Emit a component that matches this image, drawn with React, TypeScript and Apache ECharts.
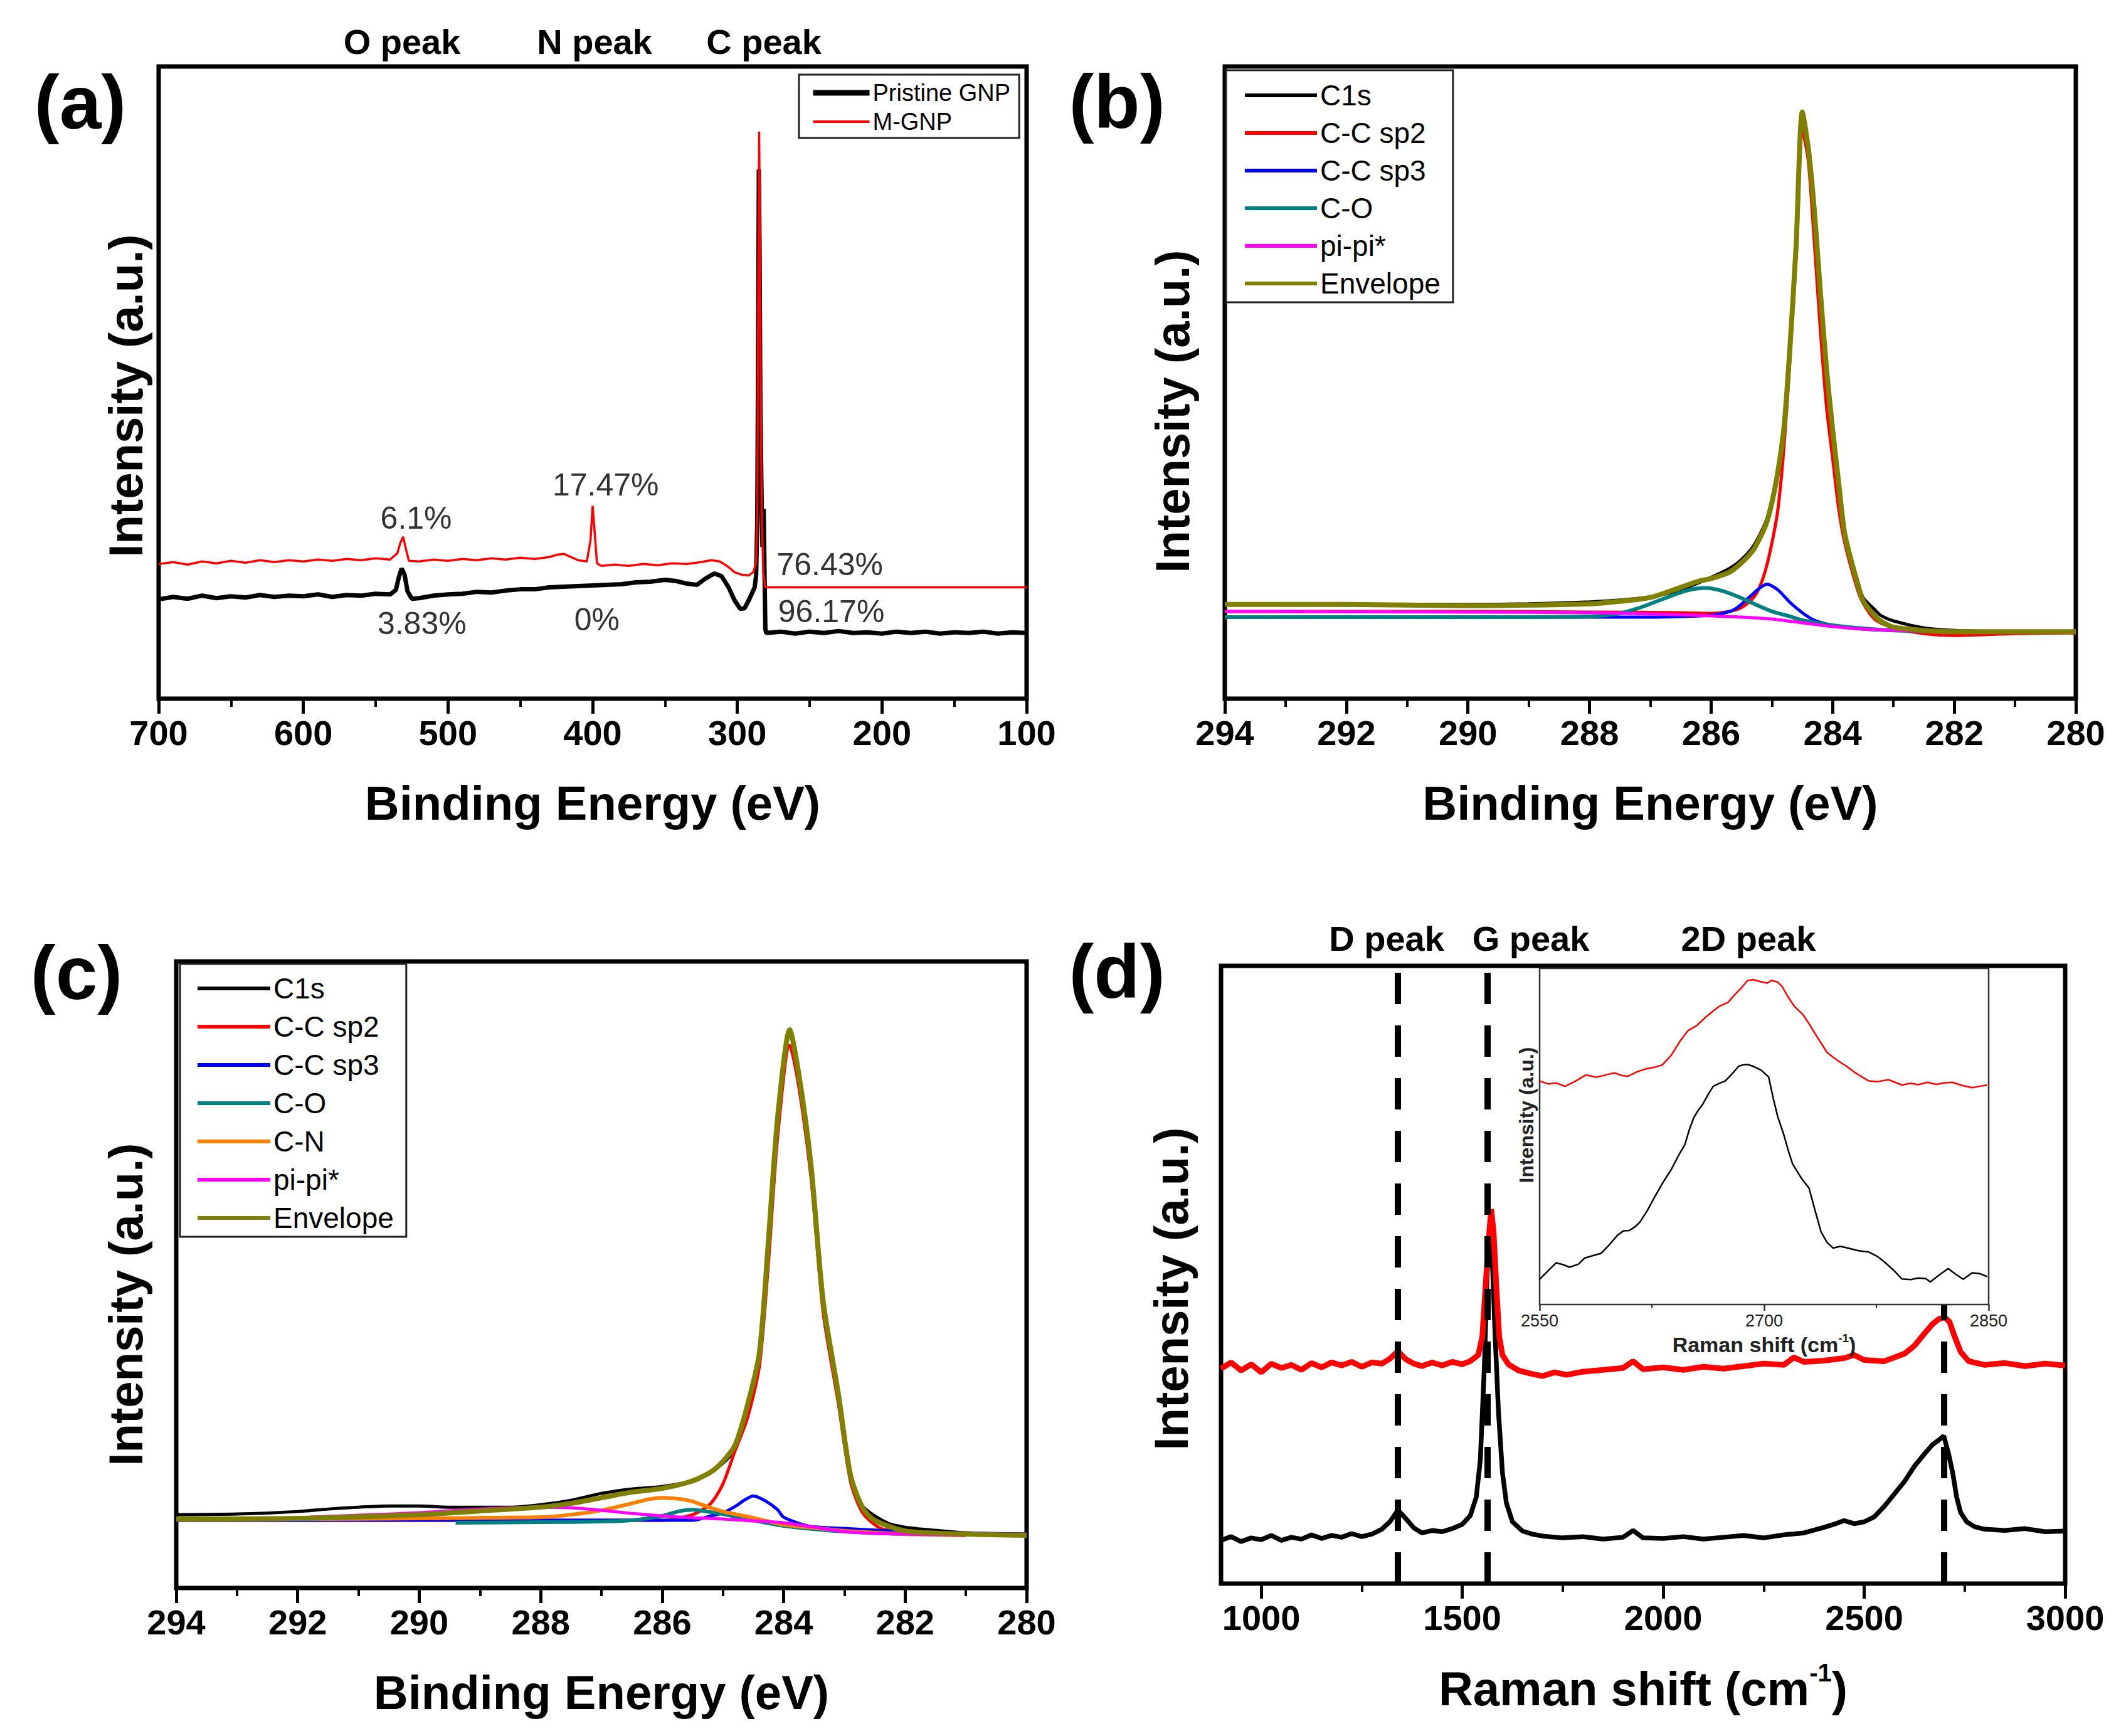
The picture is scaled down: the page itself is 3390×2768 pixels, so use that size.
import React, { useEffect, useRef } from "react";
import * as echarts from "echarts";

type P = [number, number];

const FONT = "'Liberation Sans', Arial, Helvetica, sans-serif";

// ---------------- (a) XPS survey ----------------
const pristineGNP: P[] = [
  [700, 15.7], [690, 16.1], [680, 15.8], [670, 16.3], [660, 15.9], [650, 16.2], [640, 16.0], [630, 16.4],
  [620, 16.1], [610, 16.3], [600, 16.2], [590, 16.5], [580, 16.1], [570, 16.4], [560, 16.3], [550, 16.6],
  [540, 16.5], [536, 17.2], [534, 19.2], [532, 20.6], [530, 19.6], [528, 17.0], [525, 15.8], [520, 15.9],
  [510, 16.3], [500, 16.5], [490, 16.6], [480, 16.9], [470, 16.8], [460, 17.1], [450, 17.3], [440, 17.3],
  [430, 17.6], [420, 17.7], [410, 17.8], [400, 17.9], [390, 18.0], [380, 18.1], [370, 18.4], [360, 18.5],
  [350, 18.8], [342, 18.6], [335, 18.2], [328, 18.0], [322, 19.0], [316, 19.8], [311, 19.4], [306, 17.6],
  [302, 15.6], [298, 14.2], [295, 14.3], [292, 15.6], [290, 16.6], [288, 17.6], [287, 19.5], [286.2, 28],
  [285.6, 55], [285.1, 83.7], [284.6, 70], [284.1, 48], [283.6, 38], [283.1, 30], [282.6, 24], [281.8, 30],
  [281.2, 20], [280.6, 11], [280, 10.4], [270, 10.6], [260, 10.3], [250, 10.6], [240, 10.4], [230, 10.7],
  [220, 10.4], [210, 10.5], [200, 10.3], [190, 10.6], [180, 10.4], [170, 10.6], [160, 10.3], [150, 10.5],
  [140, 10.4], [130, 10.6], [120, 10.3], [110, 10.5], [100, 10.4],
];
const mGNP: P[] = [
  [700, 21.3], [690, 21.6], [680, 21.2], [670, 21.7], [660, 21.4], [650, 21.8], [640, 21.5], [630, 21.9],
  [620, 21.6], [610, 21.9], [600, 21.7], [590, 22.0], [580, 21.8], [570, 22.1], [560, 21.9], [550, 22.2],
  [540, 22.0], [535, 23.0], [533, 24.6], [531, 25.6], [529, 23.6], [527, 21.8], [520, 21.7], [510, 22.0],
  [500, 21.8], [490, 22.1], [480, 21.9], [470, 22.2], [460, 22.0], [450, 22.3], [440, 22.1], [430, 22.4],
  [424, 22.8], [420, 22.9], [416, 22.5], [410, 21.9], [404, 21.7], [401.5, 25], [400, 30.5], [398.5, 26],
  [397, 21.4], [394, 21.0], [385, 21.2], [375, 21.0], [365, 21.3], [355, 21.1], [345, 21.4], [335, 21.3],
  [325, 21.6], [318, 21.9], [312, 21.7], [306, 20.8], [302, 20.0], [297, 19.6], [292, 19.5], [289, 20.0],
  [287, 21.5], [286.2, 30], [285.6, 60], [284.9, 89.7], [284.3, 72], [283.7, 45], [283, 28], [282, 20],
  [281, 18], [280.5, 17.6], [280, 17.6], [100, 17.6],
];
const surveyNotes = [
  { text: "6.1%", x: 522, y: 28.6 },
  { text: "17.47%", x: 391, y: 33.8 },
  { text: "76.43%", x: 236, y: 21.2 },
  { text: "3.83%", x: 518, y: 11.9 },
  { text: "0%", x: 397, y: 12.5 },
  { text: "96.17%", x: 235, y: 13.8 },
];
const surveyLegend = ["Pristine GNP", "M-GNP"];

// ---------------- (b) C1s Pristine ----------------
const bC1s: P[] = [
  [294, 14.9], [293, 14.9], [292, 14.8], [291, 14.9], [290, 14.9], [289, 15.0], [288, 15.3], [287.5, 15.6],
  [287, 16.1], [286.5, 17.2], [286, 19.2], [285.7, 20.6], [285.5, 22.0], [285.3, 24.2], [285.1, 28], [285.0, 31.5],
  [284.9, 36], [284.8, 42], [284.7, 55], [284.6, 70], [284.5, 92.2], [284.4, 86], [284.3, 76], [284.2, 63],
  [284.1, 51], [284.0, 41.8], [283.9, 33], [283.8, 25.5], [283.6, 19], [283.5, 16], [283.3, 14], [283.2, 13.1],
  [283, 12.3], [282.5, 11.2], [282, 10.8], [281, 10.6], [280, 10.6],
];
const bSp2: P[] = [
  [294, 13.8], [290, 13.8], [288, 13.7], [286.5, 13.6], [286, 13.5], [285.7, 13.8], [285.5, 14.4], [285.3, 16],
  [285.2, 17.7], [285.1, 20.5], [285.0, 24.6], [284.9, 30], [284.8, 40], [284.7, 54], [284.6, 72], [284.5, 90],
  [284.4, 85], [284.3, 72], [284.2, 58], [284.1, 46], [284.0, 38], [283.9, 30], [283.8, 24.6], [283.6, 17.5],
  [283.5, 15.1], [283.3, 12.5], [283, 11.2], [282.5, 10.3], [282, 10.0], [281, 10.3], [280, 10.4],
];
const bSp3: P[] = [
  [294, 12.9], [290, 12.9], [287, 12.9], [286.5, 13.0], [286, 13.2], [285.8, 13.5], [285.6, 14.2], [285.4, 15.8],
  [285.2, 17.5], [285.08, 18.1], [284.9, 17.2], [284.7, 15.2], [284.5, 13.6], [284.3, 12.4], [284, 11.6],
  [283.5, 11.0], [283, 10.8], [282, 10.7], [280, 10.6],
];
const bCO: P[] = [
  [294, 12.9], [290, 12.9], [288, 13.0], [287.5, 13.5], [287.2, 14.3], [287, 15.0], [286.7, 16.1], [286.4, 17.1],
  [286.1, 17.5], [285.8, 17.0], [285.5, 15.9], [285.2, 14.6], [285, 13.8], [284.7, 13.0], [284.5, 12.4],
  [284, 11.6], [283.5, 11.1], [283, 10.8], [282, 10.6], [280, 10.6],
];
const bPi: P[] = [
  [294, 13.8], [290, 13.7], [288, 13.6], [287, 13.4], [286, 13.1], [285.5, 12.9], [285, 12.6], [284.5, 12.0],
  [284, 11.4], [283.5, 11.0], [283, 10.8], [282.5, 10.7], [282, 10.6], [281, 10.6], [280, 10.6],
];
const bEnvelope: P[] = [
  [294, 14.9], [292, 14.9], [290, 14.7], [289, 14.8], [288, 15.0], [287.5, 15.4], [287, 16.0], [286.5, 17.6],
  [286.2, 18.6], [286, 19.0], [285.7, 20.0], [285.5, 21.5], [285.3, 23.6], [285.1, 27.5], [285.0, 31], [284.9, 36],
  [284.8, 43], [284.7, 56], [284.6, 72], [284.5, 92.8], [284.4, 87], [284.3, 77], [284.2, 64], [284.1, 52],
  [284.0, 42.5], [283.9, 34], [283.8, 26], [283.6, 18.5], [283.5, 15.5], [283.3, 13], [283.2, 12.2], [283, 11.3],
  [282.5, 10.8], [282, 10.6], [280, 10.6],
];
const bLegend = ["C1s", "C-C sp2", "C-C sp3", "C-O", "pi-pi*", "Envelope"];

// ---------------- (c) C1s M-GNP ----------------
const cC1s: P[] = [
  [294, 11.7], [293, 11.8], [292, 12.2], [291.5, 12.6], [291, 12.9], [290.5, 13.1], [290, 13.1], [289.5, 12.9],
  [289, 12.9], [288.5, 12.9], [288, 13.3], [287.5, 14.0], [287, 15.1], [286.5, 15.8], [286, 16.2], [285.5, 17.1],
  [285.2, 18.5], [285, 19.9], [284.8, 22.1], [284.6, 28.3], [284.4, 36.6], [284.25, 54.9], [284.1, 74.5],
  [283.9, 88.9], [283.75, 81.7], [283.55, 67.3], [283.35, 45.6], [283.1, 31.2], [282.9, 18.5], [282.7, 13.1],
  [282.3, 10.4], [282, 9.7], [281.5, 9.2], [281, 8.8], [280, 8.4],
];
const cSp2: P[] = [
  [294, 10.8], [290, 10.8], [288, 10.8], [286, 10.8], [285.5, 11.7], [285.2, 13.5], [285.0, 16.6], [284.8, 21.9],
  [284.6, 27], [284.4, 35.4], [284.25, 52], [284.1, 72], [283.9, 86.6], [283.75, 80], [283.55, 65.5],
  [283.35, 44], [283.1, 29.5], [282.9, 17], [282.7, 12], [282.4, 9.5], [282, 9.0], [281, 8.6], [280, 8.6],
];
const cSp3: P[] = [
  [294, 10.8], [286, 10.8], [285.5, 10.8], [285.2, 11.5], [285, 12.0], [284.8, 13.0], [284.65, 14.0],
  [284.5, 14.7], [284.3, 13.9], [284.1, 12.5], [284, 11.3], [283.6, 9.9], [283, 9.5], [282, 9.0], [280, 8.6],
];
const cCO: P[] = [
  [289.4, 10.4], [288, 10.5], [287, 10.6], [286.5, 10.8], [286, 11.5], [285.7, 12.3], [285.5, 12.5],
  [285.2, 12.1], [285, 11.8], [284.5, 10.8], [284, 9.9], [283, 9.0], [282, 8.6],
];
const cCN: P[] = [
  [294, 11.0], [292, 11.0], [290, 11.1], [289, 11.2], [288, 11.3], [287.5, 11.7], [287, 12.4], [286.5, 13.5],
  [286.2, 14.2], [286, 14.4], [285.7, 14.2], [285.5, 13.8], [285.2, 12.8], [285, 12.2], [284.5, 11.2],
  [284, 10.1], [283.5, 9.6], [283, 9.1], [282, 8.6], [281, 8.4],
];
const cPi: P[] = [
  [291.8, 11.3], [291, 11.6], [290, 12.0], [289, 12.6], [288, 12.9], [287.5, 12.8], [287, 12.4], [286.5, 11.9],
  [286, 11.5], [285.5, 11.2], [285, 11.0], [284.5, 10.7], [284, 10.4], [283.5, 9.7], [283, 9.0], [282.5, 8.7],
  [282, 8.6], [281, 8.4],
];
const cEnvelope: P[] = [
  [294, 11.0], [292, 11.1], [290, 11.7], [289, 12.3], [288, 12.9], [287.5, 13.5], [287, 14.4], [286.5, 15.3],
  [286, 15.9], [285.5, 17.1], [285.2, 18.5], [285, 20.2], [284.8, 22.8], [284.6, 29], [284.4, 37.5],
  [284.25, 55.5], [284.1, 75], [283.9, 89.1], [283.75, 82], [283.55, 67.5], [283.35, 45.8], [283.1, 31],
  [282.9, 18], [282.7, 12.8], [282.5, 10.8], [282, 9.1], [281, 8.6], [280, 8.4],
];
const cLegend = ["C1s", "C-C sp2", "C-C sp3", "C-O", "C-N", "pi-pi*", "Envelope"];

// ---------------- (d) Raman ----------------
const ramanPristine: P[] = [
  [900, 7.0], [925, 7.6], [950, 6.8], [975, 7.4], [1000, 7.1], [1025, 7.8], [1050, 7.0], [1075, 7.5],
  [1100, 7.2], [1125, 7.9], [1150, 7.3], [1175, 7.8], [1200, 7.5], [1225, 8.1], [1250, 7.6], [1275, 8.0],
  [1300, 8.8], [1320, 10.0], [1340, 11.9], [1360, 10.5], [1380, 9.0], [1400, 8.2], [1425, 8.6], [1450, 8.4],
  [1475, 8.9], [1500, 9.6], [1520, 11], [1535, 14], [1545, 20], [1555, 35], [1562, 50], [1568, 57.8],
  [1575, 52], [1582, 40], [1590, 28], [1600, 18], [1610, 13], [1625, 10], [1650, 8.5], [1675, 8.0],
  [1700, 7.7], [1750, 7.4], [1800, 7.6], [1850, 7.2], [1900, 7.5], [1925, 8.6], [1950, 7.4], [2000, 7.3],
  [2050, 7.6], [2100, 7.2], [2150, 7.5], [2200, 7.8], [2250, 7.4], [2300, 7.9], [2350, 8.2], [2400, 9.1],
  [2425, 9.6], [2450, 10.2], [2475, 9.7], [2500, 10.0], [2525, 10.8], [2550, 12.5], [2575, 14.5], [2600, 16.5],
  [2625, 19], [2650, 21], [2670, 22.5], [2685, 23.2], [2698, 23.9], [2710, 21], [2720, 18], [2730, 14],
  [2740, 11.5], [2755, 10], [2775, 9.2], [2800, 8.8], [2850, 8.6], [2900, 8.9], [2950, 8.4], [3000, 8.5],
];
const ramanMGNP: P[] = [
  [900, 34.8], [925, 35.8], [950, 34.5], [975, 35.5], [1000, 34.2], [1025, 35.6], [1050, 34.9], [1075, 35.4],
  [1100, 34.6], [1125, 35.7], [1150, 35.0], [1175, 35.8], [1200, 35.3], [1225, 35.9], [1250, 35.1], [1275, 35.8],
  [1300, 35.6], [1320, 36.4], [1340, 37.6], [1360, 36.3], [1380, 35.6], [1400, 35.2], [1425, 35.8], [1450, 35.3],
  [1475, 35.9], [1500, 35.5], [1520, 36], [1540, 37], [1550, 40], [1558, 48], [1565, 55], [1572, 60.6],
  [1578, 57], [1585, 48], [1592, 40], [1600, 37], [1615, 35.5], [1640, 34.5], [1670, 34.0], [1700, 33.6],
  [1730, 34.2], [1760, 33.8], [1800, 34.3], [1850, 34.6], [1900, 34.9], [1925, 36.0], [1950, 34.7], [2000, 35.0],
  [2050, 34.6], [2100, 35.1], [2150, 34.8], [2200, 35.2], [2250, 35.6], [2300, 35.4], [2325, 36.6], [2350, 35.9],
  [2400, 36.1], [2450, 36.5], [2475, 37.0], [2500, 36.2], [2550, 36.0], [2600, 37.2], [2625, 38.5], [2650, 40.5],
  [2670, 42], [2685, 42.8], [2700, 43.1], [2712, 42.4], [2725, 40], [2740, 37.5], [2760, 36], [2800, 35.4],
  [2850, 35.7], [2900, 35.2], [2950, 35.6], [3000, 35.3],
];
const ramanPeakLines = [1339, 1562, 2698];
const ramanMajorTicks = [1000, 1500, 2000, 2500, 3000];
const ramanMinorTicks = [1250, 1750, 2250, 2750];

const insetMGNP: P[] = [
  [2550, 66.5], [2556, 65.6], [2561, 65.9], [2567, 64.9], [2573, 66.2], [2581, 68.3], [2588, 67.6], [2595, 68.4],
  [2600, 68.9], [2605, 68.1], [2609, 67.9], [2615, 69.2], [2621, 70.1], [2627, 70.6], [2632, 71.3], [2638, 74.2],
  [2644, 78.5], [2649, 81.4], [2655, 83.0], [2661, 85.5], [2666, 87.3], [2670, 88.7], [2676, 89.9], [2680, 92.0],
  [2684, 93.8], [2689, 96.4], [2693, 96.6], [2698, 96.0], [2702, 95.6], [2705, 96.4], [2709, 95.9], [2712, 94.6],
  [2716, 91.5], [2720, 88.8], [2726, 86.2], [2730, 83.5], [2734, 80.6], [2738, 77.8], [2742, 75.0], [2746, 73.6],
  [2750, 72.3], [2755, 70.9], [2760, 69.2], [2765, 67.8], [2770, 66.5], [2776, 66.3], [2783, 66.9], [2788, 66.0],
  [2792, 65.3], [2798, 65.8], [2803, 65.4], [2809, 66.1], [2815, 65.5], [2820, 65.9], [2826, 66.1], [2832, 65.2],
  [2839, 64.5], [2844, 64.9], [2849, 65.3],
];
const insetPristine: P[] = [
  [2550, 7.5], [2556, 10.2], [2561, 12.4], [2566, 11.8], [2570, 11.1], [2576, 12.0], [2580, 13.8], [2586, 14.6],
  [2591, 15.2], [2597, 18.0], [2602, 20.6], [2606, 21.9], [2610, 22.0], [2614, 23.2], [2617, 24.5], [2622, 28.0],
  [2627, 32.1], [2632, 36.0], [2638, 40.2], [2643, 44.5], [2647, 47.5], [2650, 52.0], [2653, 55.6], [2656, 57.8],
  [2659, 59.6], [2663, 62.8], [2666, 64.9], [2670, 65.8], [2674, 66.5], [2679, 68.8], [2683, 70.9], [2686, 71.3],
  [2689, 71.4], [2693, 70.8], [2698, 69.7], [2703, 67.7], [2706, 61.5], [2709, 56.0], [2713, 50.7], [2716, 46.0],
  [2719, 41.8], [2725, 37.5], [2730, 34.6], [2734, 28.0], [2738, 21.6], [2742, 18.5], [2746, 16.8], [2751, 17.3],
  [2756, 16.8], [2763, 16.0], [2770, 15.6], [2776, 14.2], [2781, 12.4], [2787, 10.0], [2792, 7.6], [2798, 7.4],
  [2803, 7.9], [2808, 7.7], [2811, 6.7], [2817, 8.8], [2823, 10.7], [2828, 9.0], [2833, 7.5], [2839, 9.4],
  [2844, 9.2], [2849, 8.3],
];
const insetPeakLine = [2687];

// ---------------- colours ----------------
const C_BLACK = "#000000";
const C_RED = "#ff0000";
const C_BLUE = "#0000ff";
const C_TEAL = "#008080";
const C_ORANGE = "#ff8000";
const C_MAGENTA = "#ff00ff";
const C_OLIVE = "#808000";

const plain = (v: number) => String(v);

function lineSeries(name: string, data: P[], color: string, width: number, axis: number, extra: any = {}) {
  return {
    type: "line",
    name,
    data,
    xAxisIndex: axis,
    yAxisIndex: axis === 5 ? 4 : axis,
    symbol: "none",
    showSymbol: false,
    smooth: false,
    silent: true,
    color,
    itemStyle: { color },
    lineStyle: { color, width },
    z: 3,
    ...extra,
  };
}

function xAxisBase(grid: number, min: number, max: number, extra: any = {}) {
  return {
    type: "value",
    gridIndex: grid,
    min,
    max,
    axisLine: { show: false },
    axisTick: { show: true, inside: false, length: 24, lineStyle: { color: "#000", width: 5 } },
    minorTick: { show: true, splitNumber: 2, length: 13, lineStyle: { color: "#000", width: 4 } },
    axisLabel: { show: true, margin: 26, fontSize: 56, fontWeight: "bold", color: "#000", fontFamily: FONT, formatter: plain },
    splitLine: { show: false },
    minorSplitLine: { show: false },
    nameLocation: "middle",
    nameGap: 128,
    nameTextStyle: { fontSize: 76, fontWeight: "bold", color: "#000", fontFamily: FONT },
    ...extra,
  };
}

function text(t: string, x: number, y: number, size: number, weight = "bold", rotation = 0, color = "#000") {
  return {
    type: "text",
    x,
    y,
    rotation,
    silent: true,
    z: 20,
    style: {
      text: t,
      fill: color,
      fontSize: size,
      fontWeight: weight,
      fontFamily: FONT,
      align: "center",
      verticalAlign: "middle",
      textAlign: "center",
      textVerticalAlign: "middle",
    },
  };
}

function legendBox(left: number, top: number, data: any[], padding: number[], itemWidth: number, itemGap: number,
  fontSize: number, lineHeight: number, lineWidth?: number) {
  const l: any = {
    orient: "vertical",
    left,
    top,
    padding,
    itemWidth,
    itemHeight: 20,
    itemGap,
    selectedMode: false,
    borderColor: "#222",
    borderWidth: 3,
    borderRadius: 0,
    backgroundColor: "#fff",
    itemStyle: { opacity: 0, borderWidth: 0 },
    textStyle: { fontSize, lineHeight, fontFamily: FONT, color: "#000" },
    data,
  };
  if (lineWidth) l.lineStyle = { width: lineWidth };
  return l;
}

const dashStyle = { color: "#000", width: 10, type: [50, 34] };

function buildOption() {
  const grids = [
    { left: 253, top: 106, width: 1384, height: 1008 },
    { left: 1953, top: 106, width: 1357, height: 1008 },
    { left: 281, top: 1533, width: 1356, height: 999 },
    { left: 1947, top: 1540, width: 1346, height: 985 },
  ].map((g) => ({ ...g, show: true, borderColor: "#000", borderWidth: 7, backgroundColor: "transparent", containLabel: false }));
  const inset = {
    left: 2455, top: 1544, width: 716, height: 536, show: true, z: 10,
    backgroundColor: "#fff", borderColor: "#333", borderWidth: 2.5, containLabel: false,
  };

  const xAxes = [
    xAxisBase(0, 100, 700, { inverse: true, interval: 100, name: "Binding Energy (eV)" }),
    xAxisBase(1, 280, 294, { inverse: true, interval: 2, name: "Binding Energy (eV)" }),
    xAxisBase(2, 280, 294, { inverse: true, interval: 2, name: "Binding Energy (eV)" }),
    xAxisBase(3, 900, 3000, {
      minorTick: { show: false },
      axisTick: { show: true, inside: false, length: 24, customValues: ramanMajorTicks, lineStyle: { color: "#000", width: 5 } },
      axisLabel: {
        show: true, margin: 26, fontSize: 56, fontWeight: "bold", color: "#000", fontFamily: FONT,
        customValues: ramanMajorTicks, formatter: plain,
      },
      name: "{t|Raman shift (cm}{s|-1}{t|)}",
      nameGap: 122,
      nameTextStyle: {
        rich: {
          t: { fontSize: 76, fontWeight: "bold", color: "#000", fontFamily: FONT, lineHeight: 90 },
          s: { fontSize: 40, fontWeight: "bold", color: "#000", fontFamily: FONT, verticalAlign: "top", lineHeight: 90 },
        },
      },
    }),
    {
      type: "value", gridIndex: 3, min: 900, max: 3000, position: "bottom", offset: 0,
      axisLine: { show: false }, axisLabel: { show: false }, splitLine: { show: false },
      axisTick: { show: true, inside: false, length: 13, customValues: ramanMinorTicks, lineStyle: { color: "#000", width: 4 } },
    },
    {
      type: "value", gridIndex: 4, min: 2550, max: 2850, interval: 150, z: 11,
      axisLine: { show: false },
      axisTick: { show: true, inside: false, length: 10, lineStyle: { color: "#333", width: 2.5 } },
      minorTick: { show: true, splitNumber: 2, length: 6, lineStyle: { color: "#333", width: 2 } },
      axisLabel: { show: true, margin: 12, fontSize: 27, color: "#222", fontFamily: FONT, formatter: plain },
      splitLine: { show: false },
      name: "{t|Raman shift (cm}{s|-1}{t|)}",
      nameLocation: "middle",
      nameGap: 44,
      nameTextStyle: {
        rich: {
          t: { fontSize: 34, fontWeight: "bold", color: "#222", fontFamily: FONT, lineHeight: 40 },
          s: { fontSize: 19, fontWeight: "bold", color: "#222", fontFamily: FONT, verticalAlign: "top", lineHeight: 40 },
        },
      },
    },
  ];
  const yAxes = [0, 1, 2, 3, 4].map((g) => ({ type: "value", gridIndex: g, min: 0, max: 100, show: false }));

  const sm = { smooth: 0.25 };
  const series: any[] = [
    lineSeries("Pristine GNP", pristineGNP, C_BLACK, 7, 0, {
      markPoint: {
        silent: true,
        symbol: "circle",
        symbolSize: 1,
        itemStyle: { color: "transparent" },
        label: { show: true, position: "inside", formatter: "{b}", fontSize: 50, color: "#333", fontFamily: FONT },
        data: surveyNotes.map((n) => ({ name: n.text, coord: [n.x, n.y] })),
      },
    }),
    lineSeries("M-GNP", mGNP, C_RED, 3.5, 0),

    lineSeries("C1s", bC1s, C_BLACK, 5, 1, sm),
    lineSeries("C-C sp2", bSp2, C_RED, 5, 1, sm),
    lineSeries("C-C sp3", bSp3, C_BLUE, 5, 1, sm),
    lineSeries("C-O", bCO, C_TEAL, 6, 1, sm),
    lineSeries("pi-pi*", bPi, C_MAGENTA, 5, 1, sm),
    lineSeries("Envelope", bEnvelope, C_OLIVE, 8, 1, sm),

    lineSeries("C1s", cC1s, C_BLACK, 5, 2, sm),
    lineSeries("C-C sp2", cSp2, C_RED, 5, 2, sm),
    lineSeries("C-C sp3", cSp3, C_BLUE, 5, 2, sm),
    lineSeries("C-O", cCO, C_TEAL, 6, 2, sm),
    lineSeries("C-N", cCN, C_ORANGE, 6, 2, sm),
    lineSeries("pi-pi*", cPi, C_MAGENTA, 5, 2, sm),
    lineSeries("Envelope", cEnvelope, C_OLIVE, 8, 2, sm),

    lineSeries("Raman Pristine GNP", ramanPristine, C_BLACK, 7.5, 3, {
      markLine: {
        silent: true,
        symbol: ["none", "none"],
        label: { show: false },
        lineStyle: dashStyle,
        data: ramanPeakLines.map((v) => ({ xAxis: v })),
      },
    }),
    lineSeries("Raman M-GNP", ramanMGNP, C_RED, 9, 3),

    lineSeries("Inset M-GNP", insetMGNP, C_RED, 2.5, 5, { z: 12 }),
    lineSeries("Inset Pristine GNP", insetPristine, C_BLACK, 2.5, 5, {
      z: 12,
      markLine: {
        silent: true,
        symbol: ["none", "none"],
        label: { show: false },
        lineStyle: dashStyle,
        data: insetPeakLine.map((v) => ({ xAxis: v })),
      },
    }),
  ];

  const legends = [
    legendBox(1274, 119, [
      { name: surveyLegend[0], lineStyle: { width: 9 } },
      { name: surveyLegend[1], lineStyle: { width: 4 } },
    ], [9, 14, 6, 18], 90, 6, 38, 40),
    legendBox(1955, 112, bLegend, [16, 20, 6, 27], 115, 12, 46, 48, 6),
    legendBox(287, 1537, cLegend, [15, 20, 6, 25], 116, 13, 46, 48, 6),
  ];

  const graphic = [
    text("(a)", 128, 163, 120),
    text("(b)", 1781, 162, 120),
    text("(c)", 122, 1551, 120),
    text("(d)", 1781, 1549, 120),
    text("O peak", 641, 66, 56),
    text("N peak", 948, 66, 56),
    text("C peak", 1218, 66, 56),
    text("D peak", 2211, 1496, 56),
    text("G peak", 2441, 1496, 56),
    text("2D peak", 2788, 1496, 56),
    text("Intensity (a.u.)", 200, 631, 76, "bold", Math.PI / 2),
    text("Intensity (a.u.)", 1869, 656, 76, "bold", Math.PI / 2),
    text("Intensity (a.u.)", 200, 2080, 76, "bold", Math.PI / 2),
    text("Intensity (a.u.)", 1867, 2055, 76, "bold", Math.PI / 2),
    text("Intensity (a.u.)", 2434, 1778, 32, "bold", Math.PI / 2, "#222"),
  ];

  return {
    animation: false,
    backgroundColor: "#ffffff",
    textStyle: { fontFamily: FONT },
    grid: [...grids, inset],
    xAxis: xAxes,
    yAxis: yAxes,
    legend: legends,
    series,
    graphic,
  };
}

export default function App() {
  const ref = useRef<HTMLDivElement>(null);
  useEffect(() => {
    if (!ref.current) return;
    const chart = echarts.init(ref.current, null, { renderer: "svg" });
    chart.setOption(buildOption() as any);
    return () => chart.dispose();
  }, []);
  return (
    <div
      ref={ref}
      style={{ position: "absolute", left: 0, top: 0, width: 3390, height: 2768, background: "#fff" }}
    />
  );
}
